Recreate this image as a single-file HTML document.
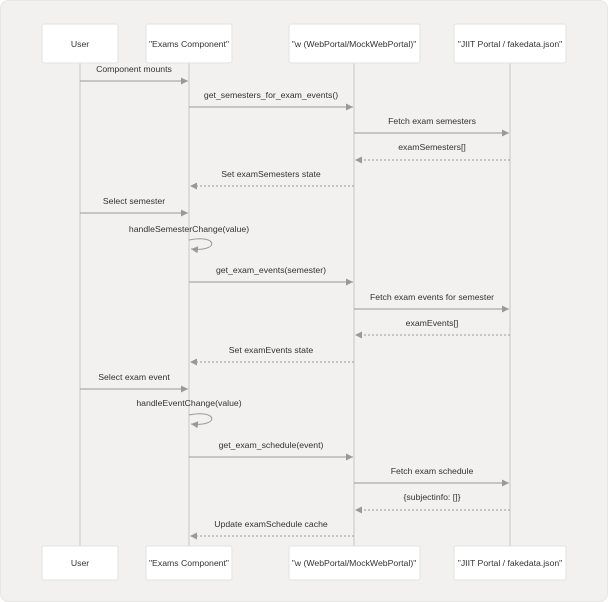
<!DOCTYPE html>
<html><head><style>
html,body{margin:0;padding:0;background:#fff}
svg{display:block}
text{font-family:"Liberation Sans",sans-serif;font-size:8.7px;fill:#333;text-anchor:middle}
</style></head><body>
<svg width="608" height="602" viewBox="0 0 608 602">
<defs>
<marker id="a" markerWidth="8" markerHeight="8" refX="7" refY="4" orient="auto" markerUnits="userSpaceOnUse"><path d="M0,0.5 L7,4 L0,7.5z" fill="#999"/></marker>
</defs>
<rect x="0.5" y="0.5" width="607" height="601" rx="8" fill="#f2f1ef" stroke="#e6e5e3"/>
<g stroke="#c8c8c8" stroke-width="1">
<line x1="80" y1="63" x2="80" y2="546"/>
<line x1="189" y1="63" x2="189" y2="546"/>
<line x1="354" y1="63" x2="354" y2="546"/>
<line x1="510" y1="63" x2="510" y2="546"/>
</g>
<g fill="#fff" stroke="#e2e2e2">
<rect x="42" y="24" width="76" height="39" rx="2"/>
<rect x="146" y="24" width="86" height="39" rx="2"/>
<rect x="289" y="24" width="131" height="39" rx="2"/>
<rect x="454" y="24" width="112" height="39" rx="2"/>
<rect x="42" y="546" width="76" height="34" rx="2"/>
<rect x="146" y="546" width="86" height="34" rx="2"/>
<rect x="289" y="546" width="131" height="34" rx="2"/>
<rect x="454" y="546" width="112" height="34" rx="2"/>
</g>
<text x="80" y="47">User</text>
<text x="189" y="47">"Exams Component"</text>
<text x="354" y="47">"w (WebPortal/MockWebPortal)"</text>
<text x="510" y="47">"JIIT Portal / fakedata.json"</text>
<text x="80" y="566">User</text>
<text x="189" y="566">"Exams Component"</text>
<text x="354" y="566">"w (WebPortal/MockWebPortal)"</text>
<text x="510" y="566">"JIIT Portal / fakedata.json"</text>
<g stroke="#999" stroke-width="1" fill="none" marker-end="url(#a)">
<line x1="80" y1="81" x2="188" y2="81"/>
<line x1="189" y1="107" x2="353" y2="107"/>
<line x1="354" y1="133" x2="509" y2="133"/>
<line x1="510" y1="160" x2="355" y2="160" stroke-dasharray="2,2"/>
<line x1="354" y1="186" x2="190" y2="186" stroke-dasharray="2,2"/>
<line x1="80" y1="213" x2="188" y2="213"/>
<path d="M189,240 C218,234 220,252 191,249"/>
<line x1="189" y1="282" x2="353" y2="282"/>
<line x1="354" y1="309" x2="509" y2="309"/>
<line x1="510" y1="335" x2="355" y2="335" stroke-dasharray="2,2"/>
<line x1="354" y1="362" x2="190" y2="362" stroke-dasharray="2,2"/>
<line x1="80" y1="389" x2="188" y2="389"/>
<path d="M189,415 C218,409 220,427 191,424"/>
<line x1="189" y1="457" x2="353" y2="457"/>
<line x1="354" y1="483" x2="509" y2="483"/>
<line x1="510" y1="510" x2="355" y2="510" stroke-dasharray="2,2"/>
<line x1="354" y1="536" x2="190" y2="536" stroke-dasharray="2,2"/>
</g>
<text x="134" y="72">Component mounts</text>
<text x="271" y="98">get_semesters_for_exam_events()</text>
<text x="432" y="124">Fetch exam semesters</text>
<text x="432" y="150">examSemesters[]</text>
<text x="271" y="177">Set examSemesters state</text>
<text x="134" y="204">Select semester</text>
<text x="189" y="232">handleSemesterChange(value)</text>
<text x="271" y="273">get_exam_events(semester)</text>
<text x="432" y="300">Fetch exam events for semester</text>
<text x="432" y="326">examEvents[]</text>
<text x="271" y="353">Set examEvents state</text>
<text x="134" y="380">Select exam event</text>
<text x="189" y="406">handleEventChange(value)</text>
<text x="271" y="448">get_exam_schedule(event)</text>
<text x="432" y="474">Fetch exam schedule</text>
<text x="432" y="500">{subjectinfo: []}</text>
<text x="271" y="527">Update examSchedule cache</text>
</svg>
</body></html>
